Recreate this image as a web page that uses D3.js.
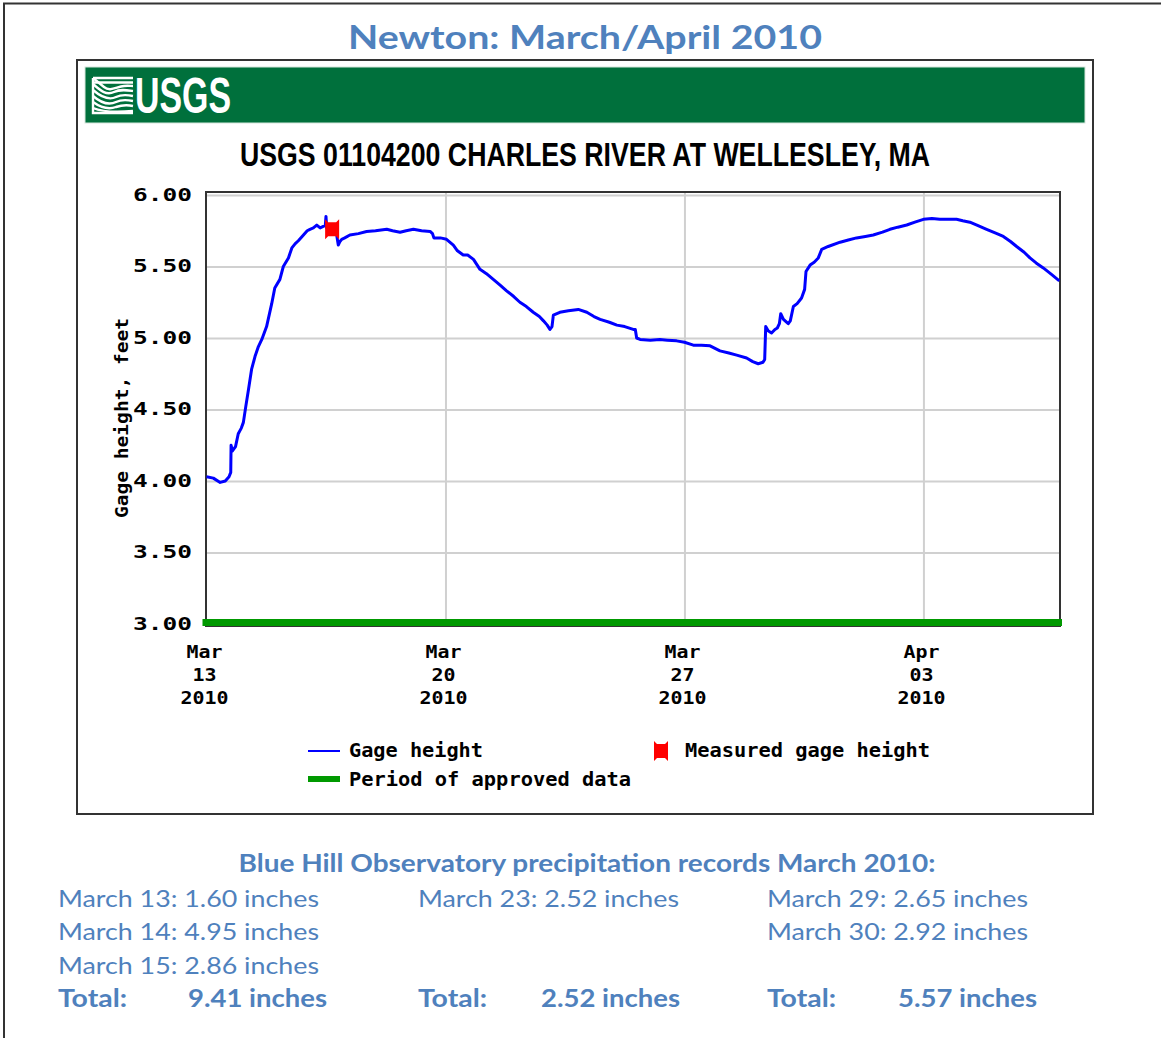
<!DOCTYPE html>
<html><head><meta charset="utf-8">
<script src="https://cdn.jsdelivr.net/npm/d3@7"></script>
<style>body{margin:0;background:#fff;} svg{display:block}</style>
</head><body>
<svg id="c" width="1161" height="1038"></svg>
<script>
// ---------- DATA ----------
const pageTitle = "Newton: March/April 2010";
const chartTitle = "USGS 01104200 CHARLES RIVER AT WELLESLEY, MA";
const yAxisTitle = "Gage height, feet";
const startDay = [2010, 2, 13];   // Mar 13 2010 (UTC)
const endDay = [2010, 3, 7];      // Apr 7 2010
const yTicks = [3.00, 3.50, 4.00, 4.50, 5.00, 5.50, 6.00];
const xTickDays = [0, 7, 14, 21];
const xTickMonth = ["Mar", "Mar", "Mar", "Apr"];
const xTickDate = ["13", "20", "27", "03"];
const xTickYear = ["2010", "2010", "2010", "2010"];
// Gage height, days after Mar 13 00:00
const dayOffsets = [0.00,0.20,0.40,0.55,0.66,0.71,0.72,0.76,0.85,0.93,1.02,1.08,1.15,1.23,1.32,1.42,1.52,1.62,1.76,1.91,
  2.00,2.15,2.25,2.40,2.50,2.60,2.69,2.84,2.95,3.03,3.13,3.23,3.33,3.42,3.48,3.50,3.52,3.68,3.80,3.86,
  3.91,3.96,4.05,4.20,4.45,4.69,4.95,5.28,5.45,5.67,5.85,6.06,6.30,6.55,6.62,6.66,6.85,7.03,7.23,7.35,
  7.52,7.65,7.82,8.01,8.20,8.40,8.60,8.79,9.00,9.18,9.37,9.57,9.75,9.87,9.98,10.06,10.12,10.16,10.35,10.60,
  10.89,11.14,11.35,11.53,11.80,12.02,12.25,12.50,12.56,12.60,12.70,13.00,13.28,13.50,13.77,14.00,14.26,14.50,14.75,15.04,
  15.30,15.53,15.82,16.00,16.16,16.30,16.35,16.38,16.45,16.55,16.65,16.72,16.78,16.82,16.90,17.04,17.10,17.19,17.30,17.43,
  17.52,17.56,17.68,17.80,17.92,18.02,18.21,18.56,18.80,19.04,19.30,19.53,19.80,20.02,20.25,20.51,20.75,21.00,21.25,21.48,
  21.75,21.97,22.15,22.36,22.60,22.85,23.10,23.34,23.55,23.73,23.95,24.12,24.30,24.51,24.75,24.98];
const gageHeights = [4.03,4.02,3.99,4.00,4.03,4.06,4.25,4.21,4.24,4.33,4.37,4.41,4.52,4.64,4.78,4.87,4.94,4.99,5.08,5.24,
  5.35,5.41,5.50,5.56,5.63,5.66,5.68,5.72,5.75,5.76,5.77,5.79,5.77,5.78,5.79,5.85,5.77,5.76,5.74,5.65,
  5.675,5.69,5.70,5.72,5.73,5.745,5.75,5.76,5.75,5.74,5.75,5.76,5.75,5.745,5.73,5.70,5.70,5.69,5.65,5.61,
  5.58,5.58,5.55,5.48,5.45,5.41,5.37,5.33,5.29,5.25,5.22,5.18,5.15,5.12,5.09,5.06,5.08,5.16,5.18,5.19,
  5.20,5.18,5.15,5.13,5.11,5.09,5.08,5.06,5.06,5.00,4.99,4.985,4.99,4.985,4.98,4.97,4.95,4.95,4.945,4.91,
  4.895,4.88,4.86,4.835,4.82,4.83,4.85,5.08,5.05,5.035,5.06,5.07,5.10,5.17,5.13,5.10,5.12,5.22,5.24,5.28,
  5.34,5.465,5.51,5.53,5.56,5.62,5.64,5.67,5.685,5.70,5.71,5.72,5.74,5.76,5.775,5.79,5.81,5.83,5.835,5.83,
  5.83,5.83,5.82,5.81,5.785,5.76,5.735,5.71,5.675,5.64,5.60,5.56,5.525,5.49,5.445,5.40];
const measuredDays = [3.68];
const measuredHeights = [5.76];
const approvedFrom = [0];
const approvedTo = [25];
const yBaseline = [3.0];
const legendLabels = ["Gage height", "Measured gage height", "Period of approved data"];
// Precipitation
const precipHeading = "Blue Hill Observatory precipitation records March 2010:";
const precipDates = ["March 13", "March 14", "March 15", "March 23", "March 29", "March 30"];
const precipInches = [1.60, 4.95, 2.86, 2.52, 2.65, 2.92];
const precipGroup = [0, 0, 0, 1, 2, 2];

// ---------- DRAW ----------
const svg = d3.select("#c");
const TEXTBLUE = "#4F81BD";
const MONO = "'DejaVu Sans Mono', 'Liberation Mono', monospace";
const SANS = "Lato, 'Open Sans', 'DejaVu Sans', sans-serif";

svg.append("rect").attr("width",1161).attr("height",1038).attr("fill","#fff");
// page frame
svg.append("path").attr("d","M4,1038 V3.5 H1161").attr("fill","none").attr("stroke","#333").attr("stroke-width",2);

svg.append("text").attr("x",585).attr("y",49).attr("text-anchor","middle")
  .attr("font-family",SANS).attr("font-weight","bold").attr("font-size",33)
  .attr("fill",TEXTBLUE).attr("textLength",474).attr("lengthAdjust","spacingAndGlyphs").text(pageTitle);

// chart image box
svg.append("rect").attr("x",77).attr("y",60).attr("width",1016).attr("height",754)
  .attr("fill","#fff").attr("stroke","#333").attr("stroke-width",2);

// USGS banner
svg.append("rect").attr("x",85).attr("y",67).attr("width",1000).attr("height",56)
  .attr("fill","#00703C").attr("stroke","#d5e6dc").attr("stroke-width",1);
const logo = svg.append("g").attr("fill","none").attr("stroke","#fff").attr("stroke-width",2.4);
[
 "M93,78 L133,78","M93,82.5 L133,82.5","M93,78 L104,87 C110,92 116,87 124,86 C128,85.5 131,86 133,86",
 "M93,84 C100,90 106,96 114,92 C120,89 126,90 133,91",
 "M93,90 C100,96 108,101 116,97 C122,94 128,95 133,96",
 "M93,96 C100,102 108,106 116,102 C122,99 128,100 133,101",
 "M93,102 C100,107 108,110 116,107 C122,105 128,105 133,106",
 "M93,108 C100,111 110,113 133,111","M93,78 L93,113 L133,113"
].forEach(d => logo.append("path").attr("d",d));
svg.append("text").attr("x",135).attr("y",113).attr("font-family","'Liberation Sans Narrow','Arial Narrow','Liberation Sans',sans-serif")
  .attr("font-weight","bold").attr("font-size",50).attr("fill","#fff")
  .attr("textLength",96).attr("lengthAdjust","spacingAndGlyphs").text("USGS");

svg.append("text").attr("x",585).attr("y",166).attr("text-anchor","middle")
  .attr("font-family","'Liberation Sans Narrow','Arial Narrow','Liberation Sans',sans-serif")
  .attr("font-weight","bold").attr("font-size",34).attr("fill","#000")
  .attr("textLength",690).attr("lengthAdjust","spacingAndGlyphs").text(chartTitle);

// scales
const t0 = Date.UTC(...startDay), t1 = Date.UTC(...endDay);
const toDate = d => new Date(t0 + d*864e5);
const x = d3.scaleUtc().domain([new Date(t0), new Date(t1)]).range([206.5, 1060]);
const y = d3.scaleLinear().domain([3, 6]).range([624, 195]);
const plot = {l:206, r:1060, t:192, b:626};

// gridlines
svg.append("g").attr("transform",`translate(${plot.l},0)`)
  .call(d3.axisLeft(y).tickValues(yTicks.filter(v=>v>3)).tickSize(-(plot.r-plot.l)).tickFormat(""))
  .call(g=>{g.select(".domain").remove(); g.selectAll("line").attr("stroke","#d0d0d0").attr("stroke-width",2);});
svg.append("g").attr("transform",`translate(0,${plot.b})`)
  .call(d3.axisBottom(x).tickValues(xTickDays.slice(1).map(toDate)).tickSize(-(plot.b-plot.t)).tickFormat(""))
  .call(g=>{g.select(".domain").remove(); g.selectAll("line").attr("stroke","#d0d0d0").attr("stroke-width",2);});

// frame
svg.append("rect").attr("x",plot.l).attr("y",plot.t).attr("width",plot.r-plot.l).attr("height",plot.b-plot.t)
  .attr("fill","none").attr("stroke","#333").attr("stroke-width",2);

// approved data bar
svg.selectAll(".appr").data(approvedFrom).enter().append("rect")
  .attr("x",(d)=>x(toDate(d))-4).attr("width",(d,i)=>x(toDate(approvedTo[i]))-x(toDate(d))+6)
  .attr("y",y(yBaseline[0])-5).attr("height",7).attr("fill","#009900");

// y tick labels
svg.append("g").attr("transform",`translate(192,0)`)
  .call(d3.axisLeft(y).tickValues(yTicks).tickSize(0).tickPadding(0).tickFormat(d3.format(".2f")))
  .call(g=>{g.select(".domain").remove();
    g.selectAll("text").attr("font-family",MONO).attr("font-weight","bold").attr("font-size",17)
     .attr("fill","#000").attr("textLength",59).attr("lengthAdjust","spacingAndGlyphs");});

// x tick labels
const xl = svg.append("g");
xTickDays.forEach((d,i)=>{
  const cx = x(toDate(d)) - 2;
  [[xTickMonth[i],658],[xTickDate[i],681],[xTickYear[i],704]].forEach(([s,yy])=>{
    xl.append("text").attr("x",cx).attr("y",yy).attr("text-anchor","middle")
      .attr("font-family",MONO).attr("font-weight","bold").attr("font-size",17).attr("fill","#000")
      .attr("textLength",s.length*12).attr("lengthAdjust","spacingAndGlyphs").text(s);
  });
});

// y title
svg.append("text").attr("transform","translate(128,418) rotate(-90)").attr("text-anchor","middle")
  .attr("font-family",MONO).attr("font-weight","bold").attr("font-size",18).attr("fill","#000")
  .attr("textLength",200).attr("lengthAdjust","spacingAndGlyphs").text(yAxisTitle);

// line
const series = dayOffsets.map((d,i)=>({date:toDate(d), v:gageHeights[i]}));
svg.append("path").datum(series).attr("fill","none").attr("stroke","#0000FF").attr("stroke-width",3)
  .attr("stroke-linejoin","round")
  .attr("d", d3.line().x(d=>x(d.date)).y(d=>y(d.v)));

// measured marker
const markerPath = "M-7,-10 L-4,-7 L4,-7 L7,-10 L7,10 L4,7 L-4,7 L-7,10 Z";
svg.selectAll(".meas").data(measuredDays).enter().append("path")
  .attr("transform",(d,i)=>`translate(${x(toDate(d))},${y(measuredHeights[i])})`)
  .attr("d",markerPath).attr("fill","#FF0000");

// legend
const lg = svg.append("g");
lg.append("line").attr("x1",308).attr("x2",340).attr("y1",751).attr("y2",751).attr("stroke","#0000FF").attr("stroke-width",2);
lg.append("path").attr("transform","translate(661,751)").attr("d",markerPath).attr("fill","#FF0000");
lg.append("rect").attr("x",308).attr("y",776).attr("width",32).attr("height",6).attr("fill","#009900");
[[legendLabels[0],349,757,134],[legendLabels[1],685,757,245],[legendLabels[2],349,786,282]].forEach(([s,xx,yy,w])=>{
  lg.append("text").attr("x",xx).attr("y",yy).attr("font-family",MONO).attr("font-weight","bold")
    .attr("font-size",19).attr("fill","#000").attr("textLength",w).attr("lengthAdjust","spacingAndGlyphs").text(s);
});

// precipitation records
svg.append("text").attr("x",587).attr("y",872).attr("text-anchor","middle").attr("font-family",SANS)
  .attr("font-weight","bold").attr("font-size",24).attr("fill",TEXTBLUE)
  .attr("textLength",697).attr("lengthAdjust","spacingAndGlyphs").text(precipHeading);
const colX = [58, 418, 767];
const totalValX = [188, 541, 898];
const rowY = [907, 940, 974];
const totalY = 1007;
const rowCount = [0,0,0];
precipDates.forEach((dt,i)=>{
  const g = precipGroup[i];
  const r = rowCount[g]++;
  svg.append("text").attr("x",colX[g]).attr("y",rowY[r]).attr("font-family",SANS).attr("font-size",24)
    .attr("fill",TEXTBLUE).attr("textLength",261).attr("lengthAdjust","spacingAndGlyphs")
    .text(`${dt}: ${precipInches[i].toFixed(2)} inches`);
});
colX.forEach((cx,g)=>{
  const tot = d3.sum(precipInches.filter((v,i)=>precipGroup[i]===g));
  svg.append("text").attr("x",cx).attr("y",totalY).attr("font-family",SANS).attr("font-weight","bold")
    .attr("font-size",24).attr("fill",TEXTBLUE).attr("textLength",69).attr("lengthAdjust","spacingAndGlyphs").text("Total:");
  svg.append("text").attr("x",totalValX[g]).attr("y",totalY).attr("font-family",SANS).attr("font-weight","bold")
    .attr("font-size",24).attr("fill",TEXTBLUE).attr("textLength",139).attr("lengthAdjust","spacingAndGlyphs")
    .text(`${tot.toFixed(2)} inches`);
});
</script>
</body></html>
